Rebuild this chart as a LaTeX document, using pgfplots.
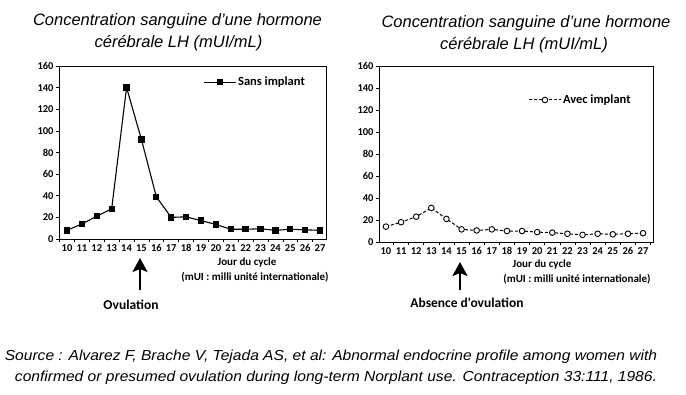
\documentclass[border=0pt]{standalone}
\usepackage{pgfplots}
\pgfplotsset{compat=1.18}
\usepackage{fontspec}
\setmainfont{Liberation Sans}
\newfontfamily\carl{Carlito}
\usetikzlibrary{arrows.meta}
\begin{document}
\begin{tikzpicture}[x=1pt,y=1pt]
\path (0pt,0pt) rectangle (686pt,-394pt);
\pgfplotsset{
  common/.style={
    scale only axis,
    anchor=south west,
    ymin=0, ymax=160,
    ytick={0,20,...,160},
    xtick={10,...,27},
    minor xtick={9.5,10.5,...,27.5},
    major x tick style={draw=none},
    tick pos=left,
    tick align=outside,
    tick style={black, line width=0.6pt},
    major tick length=3pt,
    minor tick length=3pt,
    axis line style={line width=0.8pt},
    ticklabel style={font=\carl\bfseries\fontsize{10.5}{10.5}\selectfont},
    /pgf/number format/assume math mode=true,
    xticklabel style={yshift=1pt},
    yticklabel style={xshift=1pt},
    legend style={draw=none, fill=none, font=\carl\bfseries\fontsize{12.5}{13}\selectfont, anchor=west},
    legend cell align=left,
    clip=false,
  }
}
% Left chart
\begin{axis}[common,
  at={(59pt,-239pt)}, width=267pt, height=173pt,
  xmin=9.46, xmax=27.40,
  legend style={at={(0.53,0.907)}},
  legend image code/.code={\draw[mark repeat=2,mark phase=2] plot coordinates {(0cm,0cm) (0.55cm,0cm) (1.1cm,0cm)};},
]
\addplot[black, line width=1.1pt, mark=square*, mark size=2.6pt] coordinates {
(10,8) (11,14) (12,21) (13,28) (14,140) (15,92) (16,39) (17,20) (18,20.5) (19,17) (20,13.5) (21,9) (22,9) (23,9.5) (24,8) (25,9) (26,8.5) (27,8)};
\addlegendentry{Sans implant}
\end{axis}
% Right chart
\begin{axis}[common,
  at={(379pt,-242pt)}, width=274pt, height=176pt,
  xmin=9.54, xmax=27.66,
  legend style={at={(0.535,0.807)}},
  legend image code/.code={\draw[mark repeat=2,mark phase=2] plot coordinates {(0cm,0cm) (0.55cm,0cm) (1.1cm,0cm)};},
]
\addplot[black, line width=1pt, dash pattern=on 3pt off 2pt, mark=*, mark options={solid, fill=white, line width=0.9pt}, mark size=2.8pt] coordinates {
(10,14) (11,18) (12,23) (13,31) (14,21) (15,11.5) (16,10.5) (17,11.5) (18,10) (19,10) (20,9) (21,8.5) (22,7.5) (23,6.5) (24,7.5) (25,7) (26,7.5) (27,8)};
\addlegendentry{Avec implant}
\end{axis}
% Titles
\begin{scope}[every node/.style={font=\itshape\fontsize{16.5}{18}\selectfont, inner sep=0pt}]
\node at (177.5pt,-21pt) {Concentration sanguine d'une hormone};
\node at (178.5pt,-43pt) {cérébrale LH (mUI/mL)};
\node at (526pt,-23pt) {Concentration sanguine d'une hormone};
\node at (524pt,-45pt) {cérébrale LH (mUI/mL)};
\end{scope}
% Axis notes
\begin{scope}[every node/.style={font=\carl\bfseries\fontsize{11}{11}\selectfont, inner sep=0pt}]
\node at (247pt,-263pt) {Jour du cycle};
\node at (255pt,-277pt) {(mUI : milli unité internationale)};
\node at (542pt,-265pt) {Jour du cycle};
\node at (577pt,-279pt) {(mUI : milli unité internationale)};
\end{scope}
% Arrows
\draw[line width=2.6pt, -{Stealth[length=14pt, width=15pt, inset=3pt]}] (140pt,-290pt) -- (140pt,-258pt);
\draw[line width=2.6pt, -{Stealth[length=14pt, width=15pt, inset=3pt]}] (460pt,-290pt) -- (460pt,-262pt);
\begin{scope}[every node/.style={font=\carl\bfseries\fontsize{13.5}{14}\selectfont, inner sep=0pt}]
\node at (131pt,-305pt) {Ovulation};
\node at (467pt,-303pt) {Absence d'ovulation};
\end{scope}
% Source
\begin{scope}[every node/.style={font=\itshape\fontsize{14.5}{15}\selectfont, inner sep=0pt}]
\node at (331pt,-357pt) {\scalebox{1.075}[1]{Source : Alvarez F, Brache V, Tejada AS, et al: Abnormal endocrine profile among women with}};
\node at (336pt,-378pt) {\scalebox{1.075}[1]{confirmed or presumed ovulation during long-term Norplant use. Contraception 33:111, 1986.}};
\end{scope}
\end{tikzpicture}
\end{document}
